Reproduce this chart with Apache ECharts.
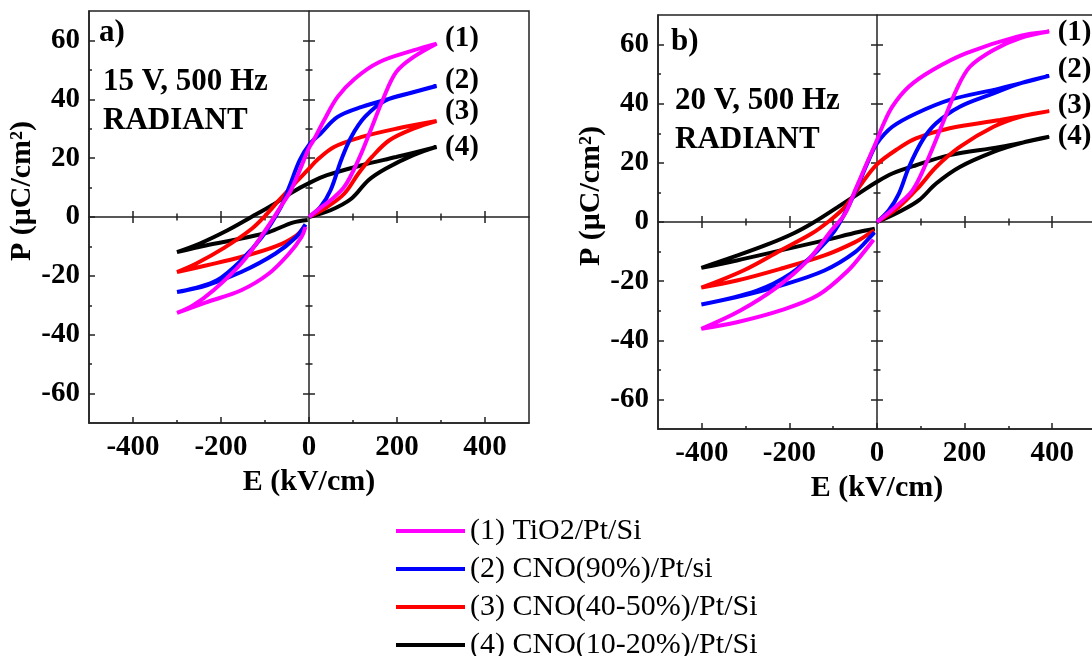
<!DOCTYPE html>
<html>
<head>
<meta charset="utf-8">
<script src="https://cdn.jsdelivr.net/npm/echarts@6/dist/echarts.min.js"></script>
<style>
  html, body { margin: 0; background: #fff; }
  #main { width: 1092px; height: 656px; }
</style>
</head>
<body>
<div id="main"></div>
<script>
// each loop: 0 -> +Emax (rising branch), +Emax -> -Emax (falling branch), -Emax -> ~0 (return)
const names = ['(1) TiO2/Pt/Si', '(2) CNO(90%)/Pt/si', '(3) CNO(40-50%)/Pt/Si', '(4) CNO(10-20%)/Pt/Si'];
const tags = ['(1)', '(2)', '(3)', '(4)'];
const colors = ['#ff00ff', '#0000ff', '#ff0000', '#000000'];

// a) 15 V, 500 Hz
const E15_1 = [0, 25, 49, 80, 112, 143, 167, 198, 237, 290, 237, 159, 104, 65, 34, 10, 0, -21, -41, -60, -99, -154, -217, -263, -300, -232, -154, -91, -45, -17, -8];
const P15_1 = [0, 3.0, 5.7, 10.2, 19.3, 30.6, 39.6, 49.2, 54.3, 58.9, 56.6, 52.6, 47.0, 40.8, 32.8, 26.0, 23.5, 15.9, 9.1, 4.5, -4.5, -15.8, -24.9, -30.0, -32.6, -28.9, -24.9, -19.2, -12.4, -6.8, -3.4];
const E15_2 = [0, 26, 49, 73, 96, 127, 174, 237, 290, 198, 120, 65, 26, 2, -21, -45, -64, -107, -154, -209, -263, -300, -232, -154, -76, -29, -8];
const P15_2 = [0, 3.4, 9.1, 19.3, 27.2, 34.0, 39.6, 42.4, 44.5, 40.8, 37.4, 34.0, 28.3, 24.9, 19.3, 10.2, 3.4, -6.8, -14.7, -21.5, -24.3, -25.5, -23.2, -18.7, -12.4, -6.8, -2.5];
const E15_3 = [0, 41, 80, 112, 143, 182, 237, 290, 198, 120, 57, 18, 0, -29, -68, -99, -130, -193, -256, -300, -232, -154, -76, -29, -9];
const P15_3 = [0, 3.4, 7.9, 14.7, 20.4, 26.0, 30.0, 32.6, 30.0, 27.2, 23.8, 19.3, 16.4, 11.9, 5.7, 0.5, -4.0, -10.5, -15.8, -18.7, -16.4, -13.6, -10.0, -6.3, -2.8];
const E15_4 = [0, 49, 96, 135, 174, 237, 290, 198, 120, 41, 0, -37, -84, -131, -185, -248, -300, -232, -154, -91, -37, -3];
const P15_4 = [0, 2.3, 6.2, 12.5, 16.4, 21.0, 23.8, 20.4, 17.6, 14.2, 11.5, 8.5, 4.0, 0.0, -4.5, -9.0, -11.9, -9.6, -7.3, -5.1, -1.9, -1.0];

// b) 20 V, 500 Hz
const E20_1 = [0, 42, 81, 112, 150, 181, 212, 266, 327, 393, 320, 204, 127, 73, 35, 12, 0, -27, -50, -73, -104, -158, -228, -312, -401, -320, -220, -135, -66, -27, -8];
const P20_1 = [0, 5.1, 10.7, 19.8, 33.4, 44.6, 52.5, 58.2, 62.2, 64.4, 62.7, 57.1, 51.4, 45.8, 39.0, 32.2, 27.7, 18.6, 10.7, 2.8, -2.8, -13.0, -22.0, -29.9, -36.1, -33.9, -29.9, -24.8, -16.4, -9.6, -6.0];
const E20_2 = [0, 27, 50, 73, 104, 135, 189, 266, 327, 393, 281, 166, 89, 35, 0, -19, -42, -66, -96, -135, -197, -274, -401, -320, -220, -120, -50, -12, -6];
const P20_2 = [0, 4.0, 9.6, 18.6, 27.7, 33.4, 39.0, 43.5, 46.9, 49.4, 45.2, 41.3, 36.7, 32.2, 26.6, 20.9, 13.0, 5.1, -2.8, -9.6, -17.5, -23.2, -27.9, -25.4, -21.5, -16.4, -10.2, -4.5, -3.5];
const E20_3 = [0, 50, 96, 135, 189, 266, 327, 393, 281, 166, 89, 50, 0, -35, -73, -112, -150, -220, -305, -401, -320, -220, -120, -50, -12, -6];
const P20_3 = [0, 5.1, 11.9, 18.6, 25.4, 32.2, 35.6, 37.5, 34.5, 31.7, 28.3, 25.0, 19.5, 13.0, 5.1, 0.0, -4.0, -9.6, -16.4, -22.2, -19.8, -15.8, -11.3, -6.8, -3.4, -3.0];
const E20_4 = [0, 50, 96, 135, 189, 266, 327, 393, 281, 166, 89, 35, 0, -42, -89, -143, -190, -250, -320, -401, -320, -220, -120, -42, -5];
const P20_4 = [0, 3.4, 7.4, 13.0, 18.6, 23.7, 26.6, 28.8, 25.4, 22.6, 19.2, 16.4, 13.6, 9.6, 5.1, 0.0, -3.8, -7.6, -11.4, -15.5, -13.0, -9.6, -6.2, -3.4, -2.3];

const xMajor = [-400, -200, 0, 200, 400];
const xMinor = [-300, -100, 100, 300];
const yMajor = [-60, -40, -20, 0, 20, 40, 60];
const yMinor = [-50, -30, -10, 10, 30, 50];

const panels = [
  { loops: [[E15_1, P15_1], [E15_2, P15_2], [E15_3, P15_3], [E15_4, P15_4]], nudge: [-5, -6, -10, 1], yNameGap: 37 },
  { loops: [[E20_1, P20_1], [E20_2, P20_2], [E20_3, P20_3], [E20_4, P20_4]], nudge: [1, -6, -6, 0], yNameGap: 42 }
];

const FONT = 'Liberation Serif';
const AX = '#222';
const N_AX = 6; // axes per panel and dimension

function lbl(size, bold) {
  return { fontFamily: FONT, fontWeight: bold ? 'bold' : 'normal', fontSize: size, color: '#000' };
}

// one axis: main (labels), edge minor ticks, and four on the zero line (ticks both sides)
function makeAxis(dim, g, kind) {
  const major = dim === 'x' ? xMajor : yMajor;
  const minor = dim === 'x' ? xMinor : yMinor;
  const mainIdx = g * N_AX;
  const centerMajor = major.filter(v => v !== 0);
  const a = {
    gridIndex: g, type: 'value', min: -70, max: 70,
    position: dim === 'x' ? 'bottom' : 'left',
    splitLine: { show: false },
    axisLabel: { show: false },
    axisLine: { show: false, onZero: false, lineStyle: { color: AX, width: 1.5 } },
    axisTick: { show: false }
  };
  if (dim === 'x') { a.min = -500; a.max = 500; }
  const tick = (vals, inside, len) => ({ show: true, inside: inside, length: len, customValues: vals, lineStyle: { color: AX, width: 1.5 } });
  if (kind === 'main') {
    a.axisLine.show = true;
    a.axisTick = tick(major, true, 6);
    a.axisLabel = Object.assign({ show: true, customValues: major, margin: dim === 'x' ? 10 : 9 }, lbl(29, true));
    a.name = dim === 'x' ? 'E (kV/cm)' : 'P (μC/cm²)';
    a.nameLocation = 'middle';
    if (dim === 'x') {
      a.nameGap = 43;
      a.nameTextStyle = lbl(30, true);
    } else {
      a.nameGap = panels[g].yNameGap;
      a.nameRotate = 90;
      // pushes the rotated title upward, as in the original figure
      a.nameTextStyle = Object.assign({ padding: [0, 0, 0, 52] }, lbl(30, true));
    }
  } else if (kind === 'edgeMinor') {
    a.axisTick = tick(minor, true, 3);
  } else {
    a.axisLine = { show: kind === 'cIn', onZero: true, onZeroAxisIndex: mainIdx, lineStyle: { color: AX, width: 1.5 } };
    if (kind === 'cIn') a.axisTick = tick(centerMajor, true, 6);
    if (kind === 'cOut') a.axisTick = tick(centerMajor, false, 6);
    if (kind === 'cMinIn') a.axisTick = tick(minor, true, 3.5);
    if (kind === 'cMinOut') a.axisTick = tick(minor, false, 3.5);
  }
  return a;
}

const kinds = ['main', 'edgeMinor', 'cIn', 'cOut', 'cMinIn', 'cMinOut'];
const xAxis = [], yAxis = [];
[0, 1].forEach(g => kinds.forEach(k => { xAxis.push(makeAxis('x', g, k)); yAxis.push(makeAxis('y', g, k)); }));

const series = [];
panels.forEach((p, g) => {
  p.loops.forEach(([E, P], i) => {
    let k = 0;
    E.forEach((e, j) => { if (e > E[k]) k = j; });
    series.push({
      name: names[i],
      type: 'line',
      xAxisIndex: g * N_AX,
      yAxisIndex: g * N_AX,
      data: E.map((e, j) => [e, P[j]]),
      showSymbol: false,
      smooth: 0.35,
      lineStyle: { width: 4, color: colors[i] },
      itemStyle: { color: colors[i] },
      z: 10 - i,
      markPoint: {
        symbol: 'circle', symbolSize: 1, silent: true,
        itemStyle: { color: colors[i] },
        label: Object.assign({ show: true, position: 'right', distance: 8, offset: [0, p.nudge[i]], formatter: tags[i] }, lbl(29, true)),
        data: [{ coord: [E[k], P[k]] }]
      }
    });
  });
});

const annoFont = 'bold 31px "Liberation Serif"';
const chart = echarts.init(document.getElementById('main'));
chart.setOption({
  animation: false,
  backgroundColor: '#fff',
  grid: [
    { left: 89, top: 11, width: 440, height: 412, show: true, borderColor: AX, borderWidth: 1.5, backgroundColor: 'transparent', outerBoundsMode: 'none' },
    { left: 658, top: 15, width: 438, height: 414, show: true, borderColor: AX, borderWidth: 1.5, backgroundColor: 'transparent', outerBoundsMode: 'none' }
  ],
  xAxis: xAxis,
  yAxis: yAxis,
  legend: {
    data: names,
    orient: 'vertical',
    left: 396,
    top: 516,
    height: 160,
    padding: 0,
    icon: 'rect',
    itemWidth: 69,
    itemHeight: 4,
    itemGap: 8,
    textStyle: lbl(30, false)
  },
  graphic: [
    { type: 'text', x: 99, y: 33, style: { text: 'a)', font: annoFont, fill: '#000', verticalAlign: 'middle' } },
    { type: 'text', x: 103, y: 82, style: { text: '15 V, 500 Hz', font: annoFont, fill: '#000', verticalAlign: 'middle' } },
    { type: 'text', x: 103, y: 121, style: { text: 'RADIANT', font: annoFont, fill: '#000', verticalAlign: 'middle' } },
    { type: 'text', x: 671, y: 42, style: { text: 'b)', font: annoFont, fill: '#000', verticalAlign: 'middle' } },
    { type: 'text', x: 675, y: 101, style: { text: '20 V, 500 Hz', font: annoFont, fill: '#000', verticalAlign: 'middle' } },
    { type: 'text', x: 675, y: 140, style: { text: 'RADIANT', font: annoFont, fill: '#000', verticalAlign: 'middle' } }
  ],
  series: series
});
</script>
</body>
</html>
